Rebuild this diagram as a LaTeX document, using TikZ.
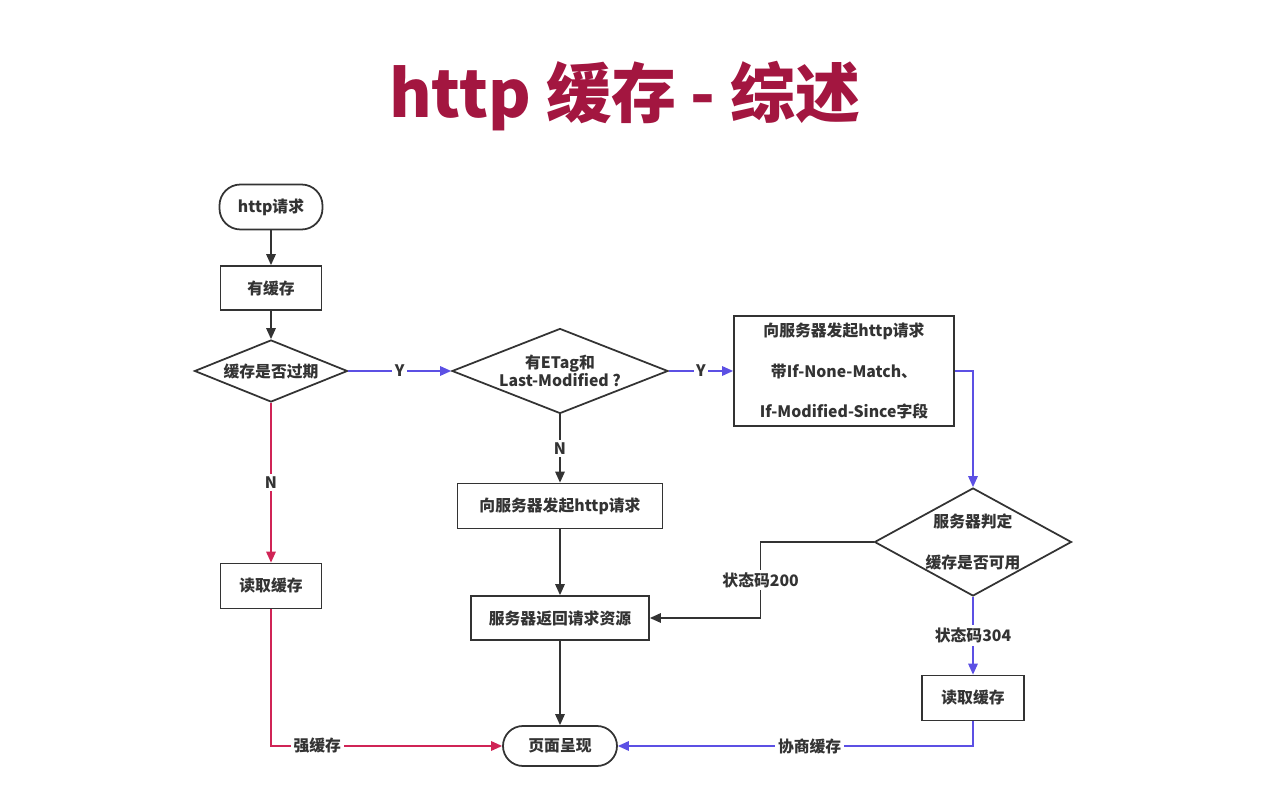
\documentclass[tikz,border=0pt]{standalone}
\usepackage{fontspec}
\setmainfont{Noto Sans CJK SC}
\usetikzlibrary{positioning, shapes.geometric, arrows.meta}
\definecolor{titlered}{RGB}{163,22,64}
\definecolor{inkgray}{RGB}{51,51,51}
\definecolor{negblue}{RGB}{92,80,228}
\definecolor{strongred}{RGB}{208,36,86}
\tikzset{
  proc/.style={draw=inkgray, line width=1pt, rectangle, inner sep=0pt, align=center},
  term/.style={draw=inkgray, line width=1pt, rectangle, rounded corners=0.42cm, inner sep=0pt},
  decide/.style={draw=inkgray, line width=1pt, diamond, inner sep=-4pt, align=center},
  flow/.style={->, draw=inkgray, line width=0.9pt},
  negflow/.style={->, draw=negblue, line width=0.9pt},
  strongflow/.style={->, draw=strongred, line width=0.9pt},
  lbl/.style={fill=white, inner sep=1.5pt, text=inkgray}
}
\begin{document}
\begin{tikzpicture}[node distance=1.6cm, >={Triangle[length=2.2mm, width=1.9mm]},
  every node/.style={font=\fontsize{9}{11}\selectfont\bfseries, text=inkgray}]
\useasboundingbox (0,0) rectangle (25.22,-16.12);
\node[font=\fontsize{37}{40}\selectfont\bfseries, text=titlered] (title) at (12.50,-1.92) {http 缓存 - 综述};

% left column
\node[term, minimum width=2.06cm, minimum height=0.9cm] (req) at (5.42,-4.14) {http请求};
\node[proc, below of=req, yshift=-0.02cm, minimum width=2.02cm, minimum height=0.88cm] (cache) {有缓存};
\node[decide, below of=cache, yshift=-0.06cm, shape aspect=2.47, minimum width=3.06cm, minimum height=1.24cm] (expired) {缓存是否过期};
\node[proc, below of=expired, yshift=-2.7cm, minimum width=2.02cm, minimum height=0.9cm] (readL) {读取缓存};

% middle column
\node[decide, right of=expired, xshift=4.18cm, shape aspect=2.54, minimum width=4.32cm, minimum height=1.7cm] (etag) {有ETag和\\[-1pt]Last-Modified ?};
\node[proc, below of=etag, yshift=-1.1cm, minimum width=4.1cm, minimum height=0.9cm] (reqN) {向服务器发起http请求};
\node[proc, below of=reqN, yshift=-0.64cm, minimum width=3.56cm, minimum height=0.88cm] (resp) {服务器返回请求资源};
\node[term, below of=resp, yshift=-0.96cm, minimum width=2.28cm, minimum height=0.8cm, rounded corners=0.4cm] (page) {页面呈现};

% right column
\node[proc, right of=etag, xshift=4.08cm, minimum width=4.4cm, minimum height=2.2cm] (cond) {向服务器发起http请求\\[0.42cm]带If-None-Match、\\[0.42cm]If-Modified-Since字段};
\node[decide, below of=cond, xshift=2.58cm, yshift=-1.82cm, shape aspect=1.82, minimum width=3.94cm, minimum height=2.16cm] (judge) {服务器判定\\[0.42cm]缓存是否可用};
\node[proc, below of=judge, yshift=-1.52cm, minimum width=2.04cm, minimum height=0.9cm] (readR) {读取缓存};

\draw[flow] (req) -- (cache);
\draw[flow] (cache) -- (expired);
\draw[negflow] (expired) -- node[lbl] {Y} (etag);
\draw[strongflow] (expired) -- node[lbl] {N} (readL);
\draw[negflow] (etag) -- node[lbl] {Y} (cond);
\draw[flow] (etag) -- node[lbl] {N} (reqN);
\draw[flow] (reqN) -- (resp);
\draw[flow] (resp) -- (page);
\draw[negflow] (cond.east) -| (judge.north);
\draw[flow] (judge.west) -- ++(-2.26,0) |- node[lbl, pos=0.25] {状态码200} (resp.east);
\draw[negflow] (judge) -- node[lbl] {状态码304} (readR);
\draw[negflow] (readR.south) |- node[lbl, pos=0.73] {协商缓存} (page.east);
\draw[strongflow] (readL.south) |- node[lbl, pos=0.6] {强缓存} (page.west);
\end{tikzpicture}
\end{document}
